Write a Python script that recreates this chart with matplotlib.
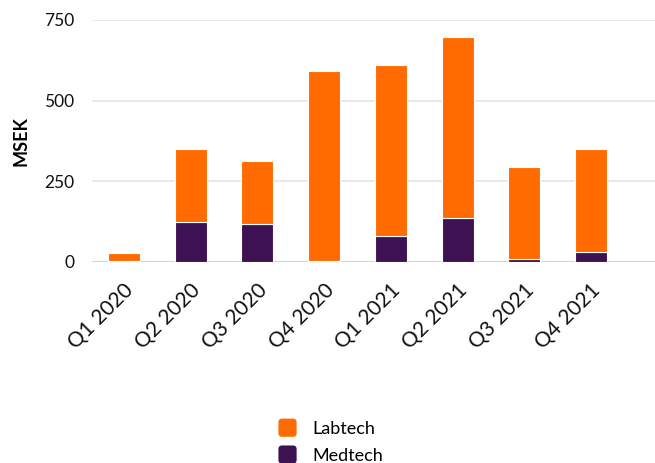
import matplotlib
matplotlib.use("Agg")
import matplotlib.pyplot as plt
import numpy as np
from matplotlib.patches import FancyBboxPatch, Patch
from matplotlib.legend_handler import HandlerPatch
from matplotlib.transforms import ScaledTranslation

categories = ["Q1 2020", "Q2 2020", "Q3 2020", "Q4 2020",
              "Q1 2021", "Q2 2021", "Q3 2021", "Q4 2021"]
medtech = [3, 124, 117, 3, 80, 136, 10, 30]
labtech = [24, 226, 196, 589, 530, 561, 284, 320]
yticks = [0, 250, 500, 750]

ORANGE = "#FF6B00"
PURPLE = "#3D1152"

plt.rcParams['font.family'] = ['Lato', 'DejaVu Sans']

fig = plt.figure(figsize=(6.55, 4.63), dpi=100)
ax = fig.add_axes([92/655, 1 - 262/463, 1 - 92/655, (262 - 20)/463])

x = np.arange(len(categories))
w = 0.48
ax.bar(x, medtech, width=w, color=PURPLE, edgecolor="white", linewidth=0.8,
       zorder=3, label="Medtech")
ax.bar(x, labtech, width=w, bottom=medtech, color=ORANGE, edgecolor="white",
       linewidth=0.8, zorder=3, label="Labtech")

ax.set_xlim(-0.48, 7.96)
ax.set_ylim(0, 750)
ax.set_yticks(yticks)
ax.set_yticklabels([str(v) for v in yticks])
ax.yaxis.grid(True, color="#e6e6e6", linewidth=1.2, zorder=0)
ax.set_axisbelow(True)
for s in ax.spines.values():
    s.set_visible(False)
ax.axhline(0, color="#ccd6eb", linewidth=1.5, zorder=2)
ax.tick_params(axis="y", length=0, labelsize=12.5, pad=12.5, colors="#111111")
ax.tick_params(axis="x", length=0, labelsize=15, pad=13, colors="#111111")
ax.set_xticks(x)
ax.set_xticklabels(categories, rotation=45, ha="right", va="top",
                   rotation_mode="anchor")
offset = ScaledTranslation(-0.005, 0, fig.dpi_scale_trans)
for lbl in ax.get_xticklabels():
    lbl.set_transform(lbl.get_transform() + offset)
ax.set_ylabel("MSEK", fontsize=13, fontweight="bold", labelpad=11)


class RoundHandler(HandlerPatch):
    def create_artists(self, legend, orig_handle, xdescent, ydescent,
                       width, height, fontsize, trans):
        size = min(width, height) * 1.05
        cx = -xdescent + width / 2
        cy = -ydescent + height / 2
        p = FancyBboxPatch((cx - size / 2, cy - size / 2), size, size,
                           boxstyle="round,pad=0,rounding_size=%f" % (size * 0.2),
                           facecolor=orig_handle.get_facecolor(),
                           edgecolor="none", transform=trans)
        return [p]


handles = [Patch(facecolor=ORANGE, label="Labtech"),
           Patch(facecolor=PURPLE, label="Medtech")]
fig.legend(handles=handles, loc="upper center", bbox_to_anchor=(0.504, 0.13),
           frameon=False, fontsize=13, handlelength=1.1, handleheight=1.1,
           handletextpad=0.8, labelspacing=0.5,
           handler_map={Patch: RoundHandler()})

fig.savefig("out.png", dpi=100)
